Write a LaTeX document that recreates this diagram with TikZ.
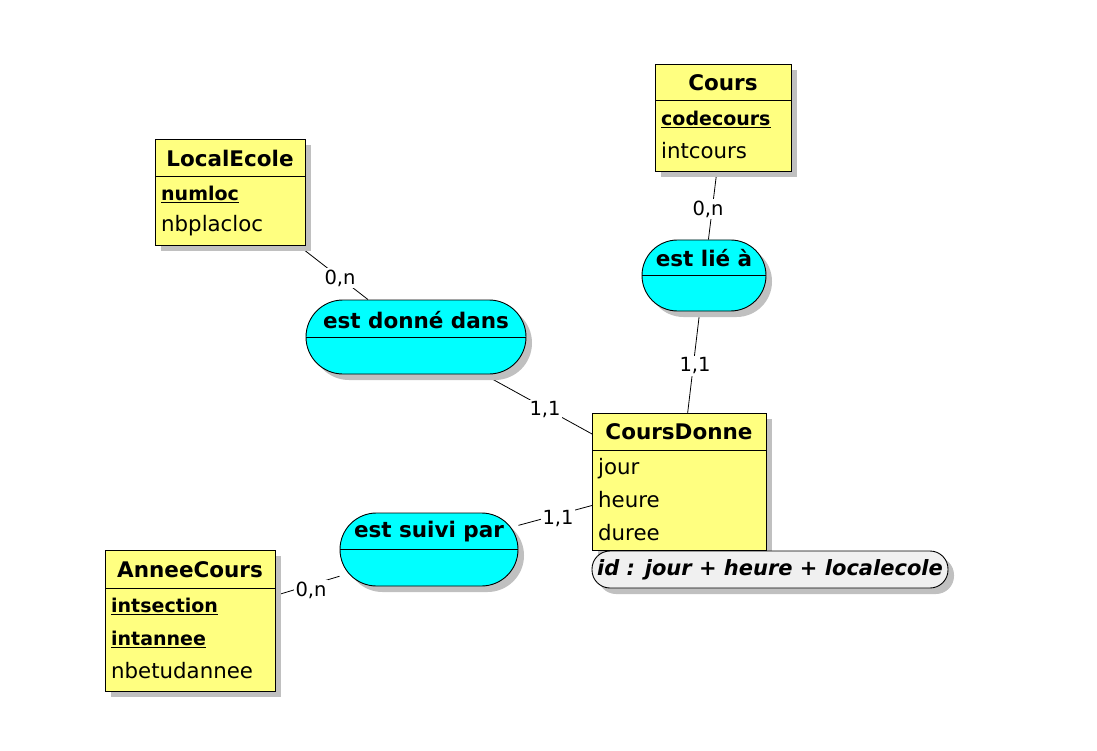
\documentclass[tikz,border=0pt]{standalone}
\usepackage{fontspec}
\setmainfont{DejaVu Sans}
\usetikzlibrary{shadows}
\pgfdeclarelayer{bg}\pgfsetlayers{bg,main}
\definecolor{entfill}{RGB}{255,255,128}
\definecolor{relfill}{RGB}{0,255,255}
\definecolor{shad}{RGB}{192,192,192}
\definecolor{idfill}{RGB}{240,240,240}
\tikzset{
  shdw/.style={drop shadow={shadow xshift=6pt,shadow yshift=-6pt,fill=shad,opacity=1,draw=none}},
  entbox/.style={draw,fill=entfill,shdw,anchor=north west,inner sep=0pt,line width=0.9pt},
  relbox/.style={draw,fill=relfill,shdw,inner sep=0pt,line width=0.9pt},
  idbox/.style={draw,fill=idfill,shdw,inner sep=0pt,line width=0.9pt,rounded corners=18pt},
  ttl/.style={font=\fontsize{21.5}{24}\selectfont\bfseries,inner sep=0pt},
  battr/.style={font=\fontsize{19}{22}\selectfont\bfseries,inner sep=0pt,anchor=west},
  attr/.style={font=\fontsize{21.3}{22}\selectfont,inner sep=0pt,anchor=west},
  card/.style={font=\fontsize{19.5}{22}\selectfont,fill=white,inner sep=1.5pt},
  conn/.style={line width=0.8pt},
  divl/.style={line width=0.9pt}
}
\begin{document}
\begin{tikzpicture}[x=1pt,y=-1pt]
\useasboundingbox (0,0) rectangle (1097,751);

% Entities
\node[entbox,minimum width=136pt,minimum height=107pt] (cours) at (655,64) {};
\draw[divl] (655,100) -- (791,100);
\node[ttl] (coursT) at (723,83) {Cours};
\node[battr] (coursA1) at (661,119) {\underline{codecours}};
\node[attr] (coursA2) at (661,151) {intcours};

\node[entbox,minimum width=150pt,minimum height=106pt] (local) at (155,139) {};
\draw[divl] (155,176) -- (305,176);
\node[ttl] (localT) at (230,158) {LocalEcole};
\node[battr] (localA1) at (161,194) {\underline{numloc}};
\node[attr] (localA2) at (161,226) {nbplacloc};

\node[entbox,minimum width=174pt,minimum height=137pt] (cd) at (592,413) {};
\draw[divl] (592,450) -- (766,450);
\node[ttl] (cdT) at (679,432) {CoursDonne};
\node[attr] (cdA1) at (598,469) {jour};
\node[attr] (cdA2) at (598,500) {heure};
\node[attr] (cdA3) at (598,533) {duree};

\node[idbox,minimum width=356pt,minimum height=37pt] (cdid) at (770,569.5) {};
\node[font=\fontsize{21}{24}\selectfont\bfseries\itshape,inner sep=0pt] (cdidT) at (770,570) {id : jour + heure + localecole};

\node[entbox,minimum width=170pt,minimum height=141pt] (annee) at (105,550) {};
\draw[divl] (105,588) -- (275,588);
\node[ttl] (anneeT) at (190,570) {AnneeCours};
\node[battr] (anneeA1) at (111,606) {\underline{intsection}};
\node[battr] (anneeA2) at (111,639) {\underline{intannee}};
\node[attr] (anneeA3) at (111,671) {nbetudannee};

% Relationships
\node[relbox,minimum width=124pt,minimum height=71pt,rounded corners=35.5pt] (liea) at (704,275.5) {};
\draw[divl] (642,275.5) -- (766,275.5);
\node[ttl] (lieaT) at (704,258) {est lié à};

\node[relbox,minimum width=220pt,minimum height=74pt,rounded corners=37pt] (donne) at (416,337) {};
\draw[divl] (306,337) -- (526,337);
\node[ttl] (donneT) at (416,320) {est donné dans};

\node[relbox,minimum width=178pt,minimum height=73pt,rounded corners=36.5pt] (suivi) at (429,549.5) {};
\draw[divl] (340,549.5) -- (518,549.5);
\node[ttl] (suiviT) at (429,532) {est suivi par};

% Cardinalities
\node[card] (k1) at (708,209) {0,n};
\node[card] (k2) at (695,366) {1,1};
\node[card] (k3) at (340,278) {0,n};
\node[card] (k4) at (545,410) {1,1};
\node[card] (k5) at (558,519) {1,1};
\node[card] (k6) at (311,590) {0,n};

% Connectors
\begin{pgfonlayer}{bg}
\fill[white] (0,0) rectangle (1097,751);
\draw[conn] (cours) -- (liea);
\draw[conn] (liea) -- (cd);
\draw[conn] (local) -- (donne);
\draw[conn] (donne) -- (cd);
\draw[conn] (suivi) -- (cd);
\draw[conn] (annee) -- (suivi);
\end{pgfonlayer}
\end{tikzpicture}
\end{document}
